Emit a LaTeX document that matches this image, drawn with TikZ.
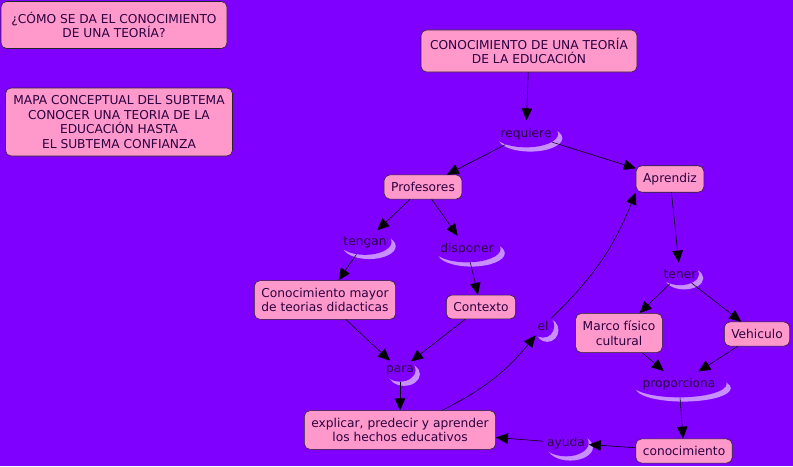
\documentclass[tikz,border=0pt]{standalone}
\usepackage{fontspec}
\setmainfont{DejaVu Sans}
\usetikzlibrary{arrows.meta,shapes.geometric,shadows}
\definecolor{fondo}{HTML}{8000FF}
\definecolor{rosa}{HTML}{FF99CC}
\definecolor{sombra}{HTML}{C890FF}
\definecolor{tinta}{HTML}{2A0040}

\begin{document}
\begin{tikzpicture}[
  x=0.025cm, y=-0.025cm,
  font=\fontsize{8.7}{10.4}\selectfont,
  concept/.style={draw=black!85, fill=rosa, rounded corners=4pt, align=center,
    inner xsep=5pt, inner ysep=5.2pt, text=tinta},
  link/.style={ellipse, fill=fondo, inner xsep=-2pt, inner ysep=2.5pt, minimum width=16pt,
    text=tinta, drop shadow={shadow xshift=3pt, shadow yshift=-3pt, fill=sombra, opacity=1}},
  arr/.style={-{Triangle[length=8.5pt,width=7.5pt]}, black}
]
  \fill[fondo] (0,0) rectangle (793,466);
  \useasboundingbox (0,0) rectangle (793,466);

  % titulos
  \node[concept, minimum width=226*0.025cm, minimum height=47*0.025cm] (pregunta) at (114,25)
    {¿CÓMO SE DA EL CONOCIMIENTO\\DE UNA TEORÍA?};
  \node[concept, minimum width=227*0.025cm, minimum height=68*0.025cm] (mapa) at (119,122)
    {MAPA CONCEPTUAL DEL SUBTEMA\\CONOCER UNA TEORIA DE LA\\EDUCACIÓN HASTA\\EL SUBTEMA CONFIANZA};

  % conceptos
  \node[concept, minimum width=216*0.025cm, minimum height=42*0.025cm] (teoria) at (529,51)
    {CONOCIMIENTO DE UNA TEORÍA\\DE LA EDUCACIÓN};
  \node[concept] (profesores) at (423,187) {Profesores};
  \node[concept] (aprendiz) at (670,179) {Aprendiz};
  \node[concept] (mayor) at (325,300) {Conocimiento mayor\\de teorias didacticas};
  \node[concept] (contexto) at (481,307) {Contexto};
  \node[concept] (marco) at (619,333) {Marco físico\\cultural};
  \node[concept] (vehiculo) at (757,334) {Vehiculo};
  \node[concept] (explicar) at (400,430) {explicar, predecir y aprender\\los hechos educativos};
  \node[concept] (conoc) at (684,451) {conocimiento};

  % palabras de enlace
  \node[link] (requiere) at (526,134) {requiere};
  \node[link] (tengan) at (365,242) {tengan};
  \node[link] (disponer) at (467,249) {disponer};
  \node[link] (para) at (400,370) {para};
  \node[link] (el) at (543,326) {el};
  \node[link] (tener) at (680,274) {tener};
  \node[link] (proporciona) at (679,384) {proporciona};
  \node[link] (ayuda) at (566,443) {ayuda};

  % conexiones
  \draw[arr] (teoria) -- (requiere);
  \draw[arr] (requiere) -- (profesores);
  \draw[arr] (requiere) -- (aprendiz);
  \draw[arr] (profesores) -- (tengan);
  \draw[arr] (profesores) -- (disponer);
  \draw[arr] (tengan) -- (mayor);
  \draw[arr] (disponer) -- (contexto);
  \draw[arr] (mayor) -- (para);
  \draw[arr] (contexto) -- (para);
  \draw[arr] (para) -- (explicar);
  \draw[arr] (explicar.north east) ++(-54,0) to[bend right=12] (el);
  \draw[arr] (el) to[bend right=12] (aprendiz.south west);
  \draw[arr] (aprendiz) -- (tener);
  \draw[arr] (tener) -- (marco);
  \draw[arr] (tener) -- (vehiculo);
  \draw[arr] (marco) -- (proporciona);
  \draw[arr] (vehiculo) -- (proporciona);
  \draw[arr] (proporciona) -- (conoc);
  \draw[arr] (conoc) -- (ayuda);
  \draw[arr] (ayuda) -- (explicar);
\end{tikzpicture}
\end{document}
